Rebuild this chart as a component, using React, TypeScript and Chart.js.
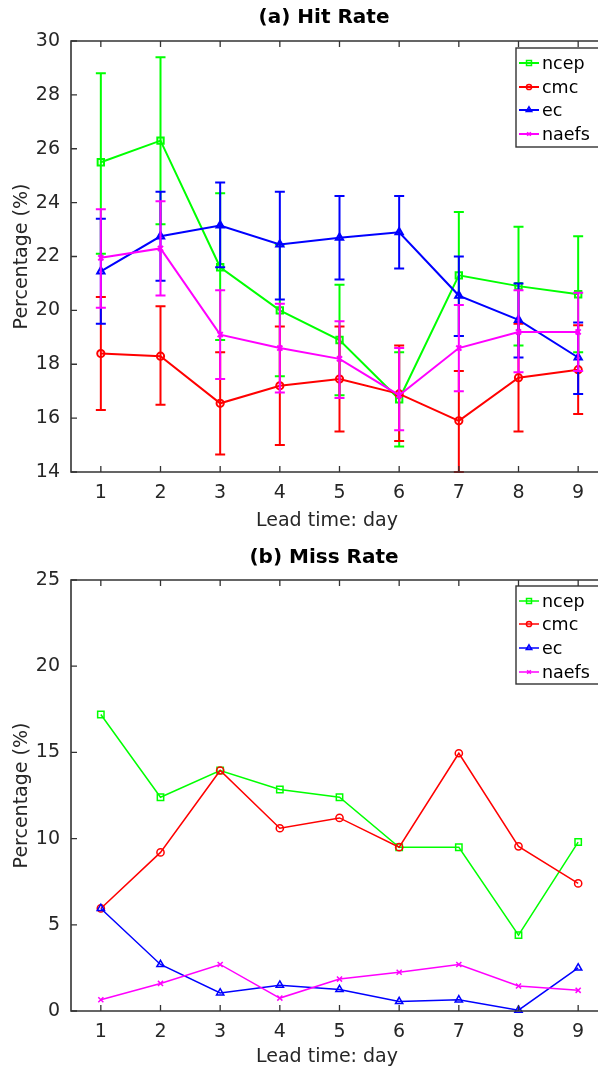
import React, { useEffect, useRef } from 'react';
import { Chart, registerables } from 'chart.js';
import { drawPoint } from 'chart.js/helpers';

Chart.register(...registerables);

// ---------- data ----------
const LEAD_DAYS = [1, 2, 3, 4, 5, 6, 7, 8, 9];
const SERIES_NAMES = ['ncep', 'cmc', 'ec', 'naefs'];

// (a) Hit Rate, with error bar bounds
const HIT_NCEP = [25.5, 26.3, 21.6, 20.0, 18.9, 16.7, 21.3, 20.9, 20.6];
const HIT_NCEP_HI = [28.8, 29.4, 24.35, 22.45, 20.95, 18.45, 23.65, 23.1, 22.75];
const HIT_NCEP_LO = [22.1, 23.2, 18.9, 17.55, 16.85, 14.95, 19.05, 18.7, 18.45];

const HIT_CMC = [18.4, 18.3, 16.55, 17.2, 17.45, 16.9, 15.9, 17.5, 17.8];
const HIT_CMC_HI = [20.5, 20.15, 18.45, 19.4, 19.4, 18.7, 17.75, 19.5, 19.45];
const HIT_CMC_LO = [16.3, 16.5, 14.65, 15.0, 15.5, 15.15, 14.0, 15.5, 16.15];

const HIT_EC = [21.45, 22.75, 23.15, 22.45, 22.7, 22.9, 20.55, 19.65, 18.25];
const HIT_EC_HI = [23.4, 24.4, 24.75, 24.4, 24.25, 24.25, 22.0, 21.0, 19.55];
const HIT_EC_LO = [19.5, 21.1, 21.6, 20.4, 21.15, 21.55, 19.05, 18.25, 16.9];

const HIT_NAEFS = [21.95, 22.3, 19.1, 18.6, 18.2, 16.85, 18.6, 19.2, 19.2];
const HIT_NAEFS_HI = [23.75, 24.05, 20.75, 20.25, 19.6, 18.6, 20.2, 20.75, 20.65];
const HIT_NAEFS_LO = [20.1, 20.55, 17.45, 16.95, 16.75, 15.55, 17.0, 17.7, 17.75];

// (b) Miss Rate
const MISS_NCEP = [17.2, 12.4, 13.95, 12.85, 12.4, 9.5, 9.5, 4.4, 9.8];
const MISS_CMC = [5.95, 9.2, 13.95, 10.6, 11.2, 9.5, 14.95, 9.55, 7.4];
const MISS_EC = [5.95, 2.7, 1.05, 1.5, 1.25, 0.55, 0.65, 0.05, 2.5];
const MISS_NAEFS = [0.65, 1.6, 2.7, 0.75, 1.85, 2.25, 2.7, 1.45, 1.2];

const HIT_Y_TICKS = [14, 16, 18, 20, 22, 24, 26, 28, 30];
const MISS_Y_TICKS = [0, 5, 10, 15, 20, 25];

// ---------- styles ----------
const COLORS = ['#00ff00', '#ff0000', '#0000ff', '#ff00ff'];
const STYLES = ['rect', 'circle', 'triangle', 'crossRot'];
const RADII = [4.5, 3.6, 4.2, 3.6];
const AXIS_COLOR = '#333333';
const FONT = '"DejaVu Sans", "Liberation Sans", Arial, sans-serif';

const CANVAS_W = 620;
const CANVAS_H = 534;

type PanelCfg = {
  title: string;
  titleY: number;
  yMin: number;
  yMax: number;
  yTicks: number[];
  values: number[][];
  lo?: number[][];
  hi?: number[][];
  lineWidth: number;
  padTop: number;
  xAxisH: number;
  xTitleY: number;
  legendTop: number;
  legendBottom: number;
  legendRows: number[];
};

function makeDecorPlugin(cfg: PanelCfg) {
  return {
    id: 'decor',
    afterDatasetDraw(chart: any, args: any) {
      if (!cfg.lo || !cfg.hi) return;
      const i = args.index;
      const xs = chart.scales.x;
      const ys = chart.scales.y;
      const ctx = chart.ctx;
      ctx.save();
      ctx.strokeStyle = COLORS[i];
      ctx.lineWidth = cfg.lineWidth;
      const cap = 5;
      LEAD_DAYS.forEach((d, k) => {
        const x = xs.getPixelForValue(d);
        const y1 = ys.getPixelForValue(cfg.lo![i][k]);
        const y2 = ys.getPixelForValue(cfg.hi![i][k]);
        ctx.beginPath();
        ctx.moveTo(x, y1);
        ctx.lineTo(x, y2);
        ctx.moveTo(x - cap, y1);
        ctx.lineTo(x + cap, y1);
        ctx.moveTo(x - cap, y2);
        ctx.lineTo(x + cap, y2);
        ctx.stroke();
      });
      ctx.restore();
    },
    afterDraw(chart: any) {
      const ctx = chart.ctx;
      const { left, right, top, bottom } = chart.chartArea;
      const xs = chart.scales.x;
      const ys = chart.scales.y;
      ctx.save();
      // frame
      ctx.strokeStyle = AXIS_COLOR;
      ctx.lineWidth = 1.6;
      ctx.beginPath();
      ctx.moveTo(left, top);
      ctx.lineTo(left, bottom);
      ctx.lineTo(right, bottom);
      ctx.lineTo(right, top);
      ctx.closePath();
      ctx.stroke();
      // inward ticks
      const tl = 6;
      ctx.lineWidth = 1.3;
      ctx.beginPath();
      LEAD_DAYS.forEach((d) => {
        const x = xs.getPixelForValue(d);
        ctx.moveTo(x, bottom);
        ctx.lineTo(x, bottom - tl);
        ctx.moveTo(x, top);
        ctx.lineTo(x, top + tl);
      });
      cfg.yTicks.forEach((v) => {
        const y = ys.getPixelForValue(v);
        ctx.moveTo(left, y);
        ctx.lineTo(left + tl, y);
        ctx.moveTo(right, y);
        ctx.lineTo(right - tl, y);
      });
      ctx.stroke();

      // titles
      ctx.fillStyle = '#000000';
      ctx.textAlign = 'center';
      ctx.textBaseline = 'middle';
      ctx.font = `bold 20px ${FONT}`;
      ctx.fillText(cfg.title, 324, cfg.titleY);
      ctx.fillStyle = '#262626';
      ctx.font = `19px ${FONT}`;
      ctx.fillText('Lead time: day', 327, cfg.xTitleY);
      ctx.save();
      ctx.translate(22, (top + bottom) / 2);
      ctx.rotate(-Math.PI / 2);
      ctx.fillText('Percentage (%)', 0, 0);
      ctx.restore();

      // legend
      const lx = 516;
      ctx.fillStyle = '#ffffff';
      ctx.fillRect(lx, cfg.legendTop, 95, cfg.legendBottom - cfg.legendTop);
      ctx.strokeStyle = AXIS_COLOR;
      ctx.lineWidth = 1.4;
      ctx.strokeRect(lx, cfg.legendTop, 95, cfg.legendBottom - cfg.legendTop);
      SERIES_NAMES.forEach((name, i) => {
        const y = cfg.legendRows[i];
        ctx.strokeStyle = COLORS[i];
        ctx.lineWidth = cfg.lineWidth;
        ctx.beginPath();
        ctx.moveTo(lx + 3, y);
        ctx.lineTo(lx + 23, y);
        ctx.stroke();
        ctx.fillStyle = 'rgba(0,0,0,0)';
        ctx.lineWidth = 1.5;
        drawPoint(ctx, { pointStyle: STYLES[i], rotation: 0, radius: RADII[i] - 1, borderWidth: 1.5 } as any, lx + 13, y);
        ctx.fillStyle = '#000000';
        ctx.font = `17.5px ${FONT}`;
        ctx.textAlign = 'left';
        ctx.textBaseline = 'middle';
        ctx.fillText(name, lx + 26, y + 1);
      });
      ctx.restore();
    },
  };
}

function makeConfig(cfg: PanelCfg): any {
  const datasets = SERIES_NAMES.map((name, i) => ({
    label: name,
    data: LEAD_DAYS.map((d, k) => ({ x: d, y: cfg.values[i][k] })),
    borderColor: COLORS[i],
    backgroundColor: COLORS[i],
    borderWidth: cfg.lineWidth,
    pointStyle: STYLES[i],
    pointRadius: RADII[i],
    pointBorderWidth: cfg.lineWidth,
    pointBorderColor: COLORS[i],
    pointBackgroundColor: 'rgba(0,0,0,0)',
    tension: 0,
    fill: false,
    clip: false,
    order: 3 - i,
  }));
  return {
    type: 'line',
    data: { datasets },
    options: {
      animation: false,
      responsive: false,
      devicePixelRatio: 1,
      events: [],
      layout: { padding: { top: cfg.padTop, right: 12, left: 0, bottom: 0 } },
      plugins: { legend: { display: false }, title: { display: false }, tooltip: { enabled: false } },
      scales: {
        x: {
          type: 'linear',
          min: 0.5,
          max: 9.5,
          grid: { display: false, drawTicks: false },
          border: { display: false },
          afterBuildTicks: (axis: any) => {
            axis.ticks = LEAD_DAYS.map((v) => ({ value: v }));
          },
          afterFit: (axis: any) => {
            axis.height = cfg.xAxisH;
          },
          ticks: {
            padding: 10,
            color: '#262626',
            font: { family: FONT, size: 19 },
            maxRotation: 0,
            autoSkip: false,
            callback: (v: any) => String(v),
          },
        },
        y: {
          type: 'linear',
          min: cfg.yMin,
          max: cfg.yMax,
          grid: { display: false, drawTicks: false },
          border: { display: false },
          afterBuildTicks: (axis: any) => {
            axis.ticks = cfg.yTicks.map((v) => ({ value: v }));
          },
          afterFit: (axis: any) => {
            axis.width = 71;
          },
          ticks: {
            padding: 11,
            color: '#262626',
            font: { family: FONT, size: 19 },
            callback: (v: any) => String(v),
          },
        },
      },
    },
    plugins: [makeDecorPlugin(cfg)],
  };
}

const HIT_CFG: PanelCfg = {
  title: '(a) Hit Rate',
  titleY: 18,
  yMin: 14,
  yMax: 30,
  yTicks: HIT_Y_TICKS,
  values: [HIT_NCEP, HIT_CMC, HIT_EC, HIT_NAEFS],
  lo: [HIT_NCEP_LO, HIT_CMC_LO, HIT_EC_LO, HIT_NAEFS_LO],
  hi: [HIT_NCEP_HI, HIT_CMC_HI, HIT_EC_HI, HIT_NAEFS_HI],
  lineWidth: 2,
  padTop: 41,
  xAxisH: 62,
  xTitleY: 521,
  legendTop: 48,
  legendBottom: 147,
  legendRows: [63, 87, 110, 134],
};

const MISS_CFG: PanelCfg = {
  title: '(b) Miss Rate',
  titleY: 24,
  yMin: 0,
  yMax: 25,
  yTicks: MISS_Y_TICKS,
  values: [MISS_NCEP, MISS_CMC, MISS_EC, MISS_NAEFS],
  lineWidth: 1.5,
  padTop: 46,
  xAxisH: 57,
  xTitleY: 523,
  legendTop: 52,
  legendBottom: 150,
  legendRows: [67, 90, 114, 138],
};

function Panel({ cfg, top }: { cfg: PanelCfg; top: number }) {
  const ref = useRef<HTMLCanvasElement>(null);
  useEffect(() => {
    const chart = new Chart(ref.current as HTMLCanvasElement, makeConfig(cfg));
    return () => chart.destroy();
  }, [cfg]);
  return (
    <canvas
      ref={ref}
      width={CANVAS_W}
      height={CANVAS_H}
      style={{ position: 'absolute', left: 0, top, width: CANVAS_W, height: CANVAS_H }}
    />
  );
}

export default function App() {
  return (
    <div
      style={{
        position: 'fixed',
        left: 0,
        top: 0,
        width: 598,
        height: 1068,
        overflow: 'hidden',
        background: '#ffffff',
      }}
    >
      <Panel cfg={HIT_CFG} top={0} />
      <Panel cfg={MISS_CFG} top={534} />
    </div>
  );
}
